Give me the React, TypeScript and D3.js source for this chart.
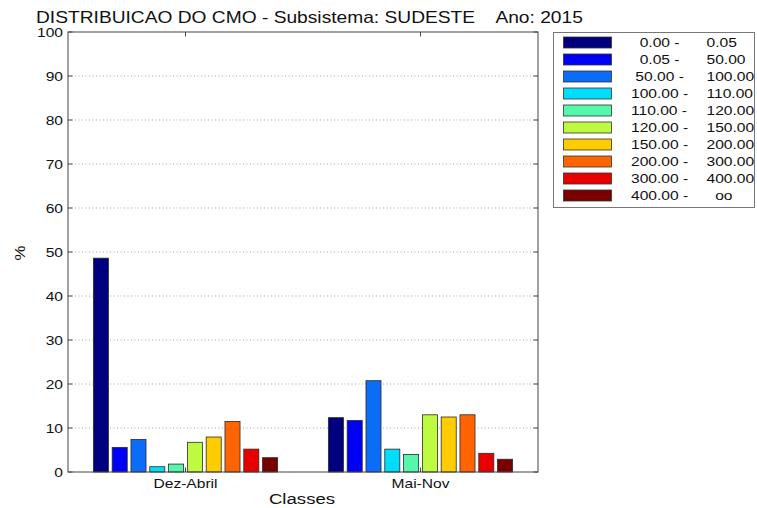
import React from "react";
import * as d3 from "d3";

const categories = ["Dez-Abril", "Mai-Nov"];
const classLow = ["0.00", "0.05", "50.00", "100.00", "110.00", "120.00", "150.00", "200.00", "300.00", "400.00"];
const classHigh = ["0.05", "50.00", "100.00", "110.00", "120.00", "150.00", "200.00", "300.00", "400.00", "oo"];
const dezAbril = [48.6, 5.6, 7.4, 1.2, 1.8, 6.75, 7.95, 11.5, 5.2, 3.25];
const maiNov = [12.35, 11.7, 20.75, 5.2, 4.0, 13.0, 12.5, 13.0, 4.25, 2.9];
const yTicks = [0, 10, 20, 30, 40, 50, 60, 70, 80, 90, 100];
const colors = ["#00007F", "#0000F5", "#0A6CF7", "#00DDFA", "#55F7AA", "#BDFA40", "#FFCC00", "#FF6400", "#E80000", "#7A0000"];
const titleText = "DISTRIBUICAO DO CMO - Subsistema: SUDESTE    Ano: 2015";

const series = [dezAbril, maiNov];

const W = 757, H = 508;
const L = 68, R = 538, T = 32, B = 472;
const SX = 1.2;
const FONT = "'Liberation Sans', Arial, Helvetica, sans-serif";

function SText({ x, y, size = 13, anchor = "start", rotate = 0, children }: any) {
  return (
    <text
      transform={`translate(${x},${y}) rotate(${rotate}) scale(${SX},1)`}
      fontSize={size}
      fontFamily={FONT}
      textAnchor={anchor}
      fill="#111"
      style={{ whiteSpace: "pre" }}
    >
      {children}
    </text>
  );
}

export default function App() {
  const x = d3.scaleLinear().domain([0.5, 2.5]).range([L, R]);
  const y = d3.scaleLinear().domain([0, 100]).range([B, T]);
  const n = classLow.length;
  const step = 0.8 / n;
  const bw = step * 0.8;
  const tickLen = 4.5;

  return (
    <svg width={W} height={H} style={{ position: "absolute", left: 0, top: 0, background: "#fff" }}>
      <rect x={0} y={0} width={W} height={H} fill="#fff" />
      {/* grid */}
      {yTicks.slice(1, -1).map((t) => (
        <line key={"g" + t} x1={L} x2={R} y1={y(t)} y2={y(t)} stroke="#8a8a8a" strokeWidth={0.8} strokeDasharray="1,2.5" />
      ))}
      {/* bars */}
      {series.map((vals, g) =>
        vals.map((v, i) => {
          const cx = x(g + 1 + (i - (n - 1) / 2) * step);
          const w = x(bw) - x(0);
          return (
            <rect
              key={`b${g}-${i}`}
              x={cx - w / 2}
              y={y(v)}
              width={w}
              height={y(0) - y(v)}
              fill={colors[i]}
              stroke="#2a2a2a"
              strokeWidth={0.8}
            />
          );
        })
      )}
      {/* axes box */}
      <rect x={L} y={T} width={R - L} height={B - T} fill="none" stroke="#444" strokeWidth={1} />
      {yTicks.map((t) => (
        <g key={"yt" + t}>
          <line x1={L} x2={L + tickLen} y1={y(t)} y2={y(t)} stroke="#444" />
          <line x1={R} x2={R - tickLen} y1={y(t)} y2={y(t)} stroke="#444" />
          <SText x={63} y={y(t) + 4.5} anchor="end">{String(t)}</SText>
        </g>
      ))}
      {categories.map((c, g) => (
        <g key={"xt" + c}>
          <line x1={x(g + 1)} x2={x(g + 1)} y1={B} y2={B - tickLen} stroke="#444" />
          <line x1={x(g + 1)} x2={x(g + 1)} y1={T} y2={T + tickLen} stroke="#444" />
          <SText x={x(g + 1)} y={488} anchor="middle">{c}</SText>
        </g>
      ))}
      <SText x={302} y={504} anchor="middle" size={15.5}>Classes</SText>
      <SText x={25} y={253} anchor="middle" size={14} rotate={-90}>%</SText>
      <SText x={36} y={23} size={16}>{titleText}</SText>
      {/* legend */}
      <rect x={553.5} y={32.5} width={201} height={175} fill="#fff" stroke="#777" strokeWidth={1} />
      {classLow.map((lo, i) => {
        const cy = 42.5 + i * 17;
        return (
          <g key={"lg" + i}>
            <rect x={563.5} y={cy - 5.5} width={48} height={11} fill={colors[i]} stroke="#333" strokeWidth={0.8} />
            <SText x={631} y={cy + 4.5}>{lo.padStart(6, " ") + " -"}</SText>
            <SText x={706.5} y={cy + 4.5}>{classHigh[i] === "oo" ? "  oo" : classHigh[i]}</SText>
          </g>
        );
      })}
    </svg>
  );
}
